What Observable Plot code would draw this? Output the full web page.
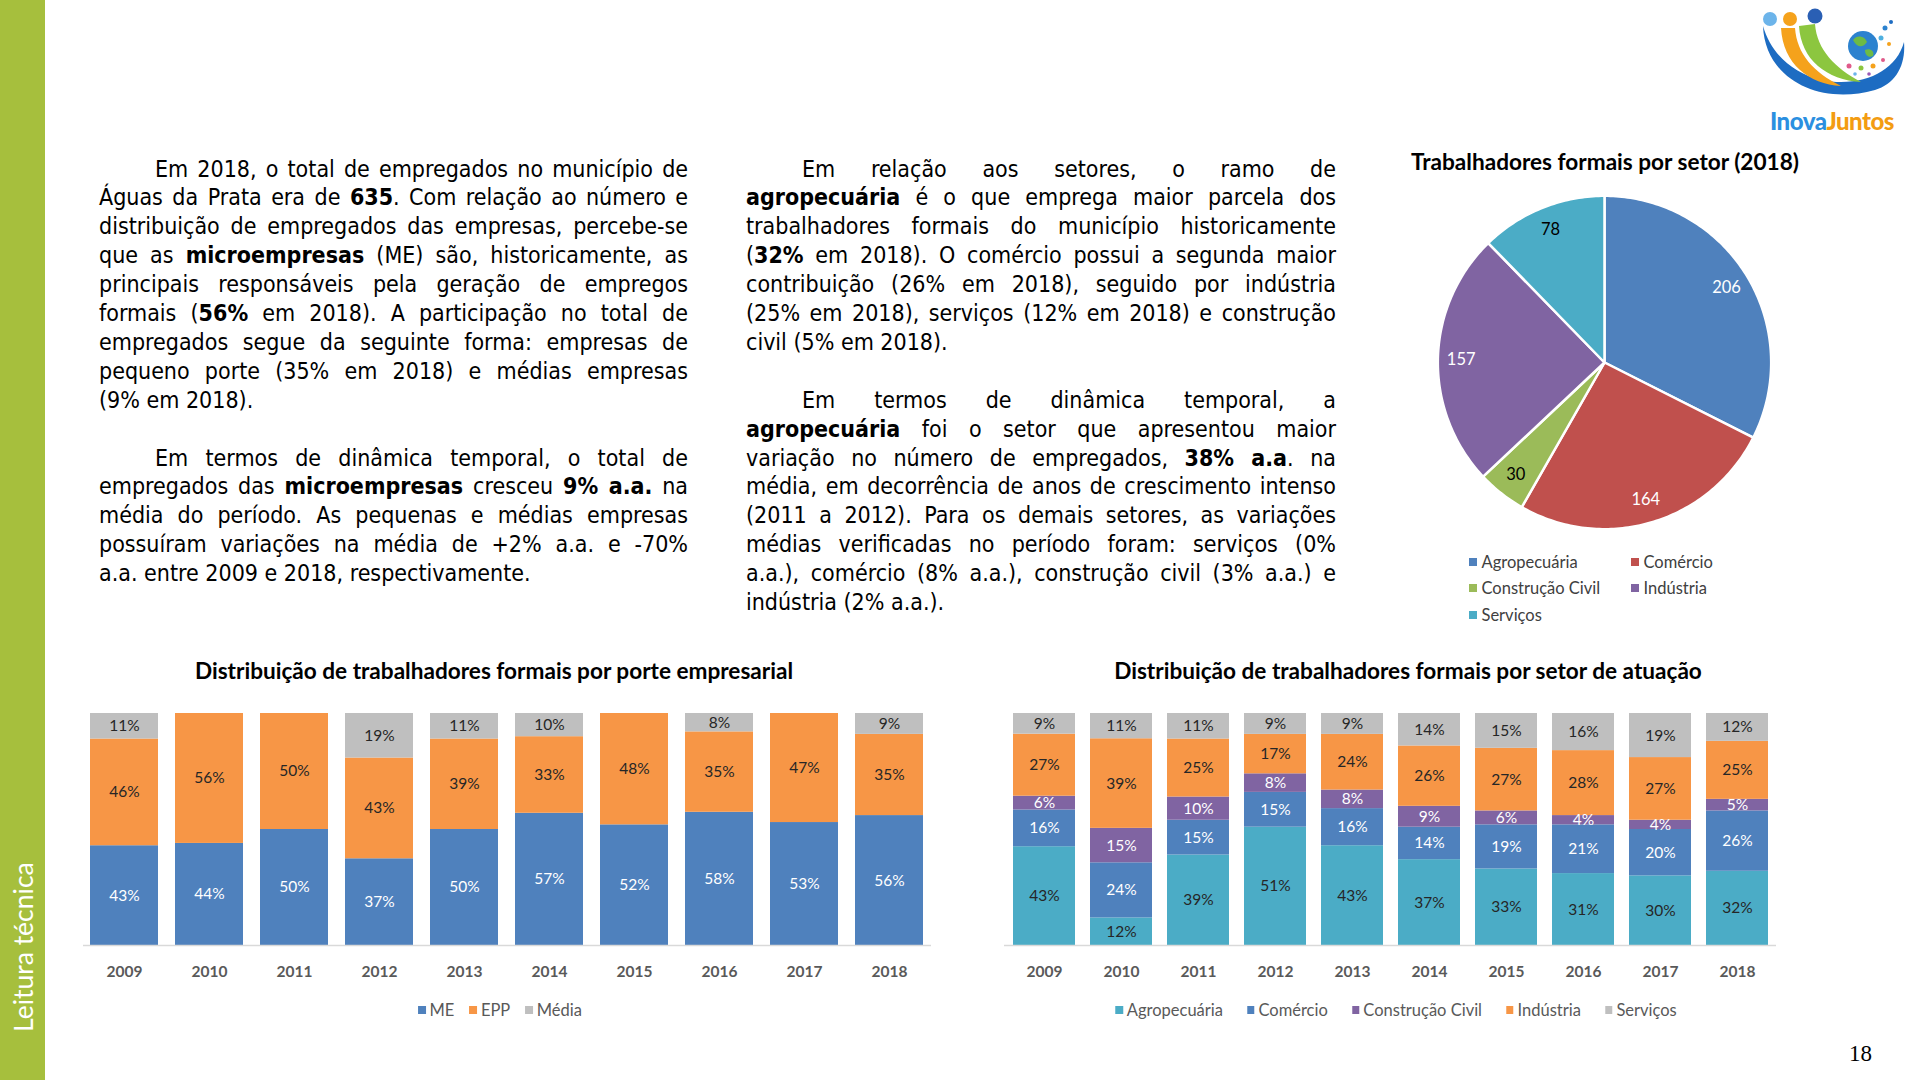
<!DOCTYPE html>
<html><head><meta charset="utf-8">
<script src="https://cdn.jsdelivr.net/npm/d3@7"></script>
<script src="https://cdn.jsdelivr.net/npm/@observablehq/plot@0.6"></script>
<style>
html,body{margin:0;padding:0;background:#fff;}
body{width:1920px;height:1080px;position:relative;overflow:hidden;font-family:Lato,"Open Sans",sans-serif;}
.abs{position:absolute;}
#sidebar{left:0;top:0;width:45px;height:1080px;background:#a6bf3d;}
#sidetext{left:0;top:850px;width:45px;height:194px;display:flex;align-items:center;justify-content:center;writing-mode:vertical-rl;transform:rotate(180deg);color:#fff;font-family:Lato,sans-serif;font-size:26.5px;}
.txt{position:absolute;font-family:"DejaVu Sans Condensed","DejaVu Sans",sans-serif;font-stretch:condensed;font-size:23px;line-height:28.9px;color:#000;}
.txt .l{white-space:nowrap;}
.txt.j .l.f{text-align:justify;text-align-last:justify;}
.txt .l.i{padding-left:56px;}
.title{position:absolute;transform:translate(-50%,-50%);font-family:Lato,sans-serif;font-weight:bold;font-size:22.6px;color:#000;white-space:nowrap;}
.legend{position:absolute;transform:translate(-50%,-50%);display:flex;align-items:center;font-family:Lato,sans-serif;font-size:16.5px;color:#595959;white-space:nowrap;}
.legend .it{display:flex;align-items:center;}
.legend .sw{width:7.5px;height:7.5px;margin-right:4px;display:inline-block;}
.pleg{position:absolute;font-family:Lato,sans-serif;font-size:16.5px;color:#404040;white-space:nowrap;display:flex;align-items:center;transform:translateY(-50%);}
.pleg .sw{width:7.5px;height:7.5px;margin-right:5px;display:inline-block;}
#pagenum{left:1849px;top:1041px;font-family:"Liberation Serif",serif;font-size:23px;color:#000;}
</style>
</head>
<body>
<div id="sidebar" class="abs"></div>
<div id="sidetext" class="abs">Leitura técnica</div>

<svg class="abs" style="left:1757px;top:4px" width="150" height="134" viewBox="0 0 150 134">
  <path d="M6,22 C8,75 62,102 118,86 C138,80 149,62 147,38 C139,68 104,84 64,76 C36,69 14,50 6,22 Z" fill="#1d6cc2"/>
  <path d="M24,24 C26,60 52,80 84,82 C56,68 40,50 38,24 Z" fill="#f5a21c"/>
  <path d="M42,22 C44,56 70,76 104,78 C78,64 60,46 58,20 Z" fill="#8cc63f"/>
  <circle cx="13" cy="15" r="7" fill="#6cb4ea"/>
  <circle cx="33" cy="15" r="7" fill="#f5a21c"/>
  <circle cx="58" cy="12" r="7.5" fill="#2a5fb4"/>
  <circle cx="106" cy="42" r="15" fill="#2c82cf"/>
  <path d="M96,36 C100,30 108,32 110,38 C106,44 100,44 96,36 Z" fill="#6dbb45"/>
  <path d="M108,46 C112,44 118,46 116,52 C112,54 108,52 108,46 Z" fill="#6dbb45"/>
  <circle cx="128" cy="24" r="2.5" fill="#2c82cf"/><circle cx="134" cy="18" r="2" fill="#1d6cc2"/>
  <circle cx="124" cy="34" r="2.5" fill="#4fb0e0"/><circle cx="132" cy="40" r="2" fill="#f5a21c"/>
  <circle cx="92" cy="62" r="2.5" fill="#e05a8a"/><circle cx="104" cy="64" r="2.5" fill="#8cc63f"/>
  <circle cx="116" cy="62" r="2.5" fill="#f5a21c"/><circle cx="126" cy="56" r="2" fill="#e05a8a"/>
  <circle cx="98" cy="70" r="1.8" fill="#6cb4ea"/><circle cx="112" cy="70" r="1.8" fill="#9b59b6"/>
  <text x="75" y="126" text-anchor="middle" font-family="Lato, sans-serif" font-weight="900" font-size="24" letter-spacing="-0.5"><tspan fill="#2b8fe0">Inova</tspan><tspan fill="#f39c12">Juntos</tspan></text>
</svg>

<div id="txtLeft" class="txt" style="left:99px;top:154.5px;width:589px;"></div>
<div id="txtMid" class="txt" style="left:746px;top:154.5px;width:590px;"></div>

<div class="title" style="left:1605px;top:161px;">Trabalhadores formais por setor (2018)</div>
<div id="pie" class="abs" style="left:1424px;top:182px;"></div>
<div id="pieLegend"></div>

<div class="title" style="left:494px;top:670px;">Distribuição de trabalhadores formais por porte empresarial</div>
<div id="barL" class="abs" style="left:83px;top:705px;"></div>
<div id="legL" class="legend" style="left:500px;top:1010px;"></div>

<div class="title" style="left:1408px;top:670px;">Distribuição de trabalhadores formais por setor de atuação</div>
<div id="barR" class="abs" style="left:1004px;top:705px;"></div>
<div id="legR" class="legend" style="left:1396px;top:1010px;"></div>

<div id="pagenum" class="abs">18</div>

<script>
// ---------- DATA ----------
const years = [2009, 2010, 2011, 2012, 2013, 2014, 2015, 2016, 2017, 2018];

// Porte empresarial (%)
const sizeSeries = ["ME", "EPP", "Média"];
const meValues    = [43, 44, 50, 37, 50, 57, 52, 58, 53, 56];
const eppValues   = [46, 56, 50, 43, 39, 33, 48, 35, 47, 35];
const mediaValues = [11, 0, 0, 19, 11, 10, 0, 8, 0, 9];
const sizeColors = ["#4f81bd", "#f79646", "#bfbfbf"];
const sizeLabelColors = ["#ffffff", "#262626", "#262626"];

// Setor de atuação (%)
const sectorSeries = ["Agropecuária", "Comércio", "Construção Civil", "Indústria", "Serviços"];
const agroValues       = [43, 12, 39, 51, 43, 37, 33, 31, 30, 32];
const comercioValues   = [16, 24, 15, 15, 16, 14, 19, 21, 20, 26];
const construcaoValues = [6, 15, 10, 8, 8, 9, 6, 4, 4, 5];
const industriaValues  = [27, 39, 25, 17, 24, 26, 27, 28, 27, 25];
const servicosValues   = [9, 11, 11, 9, 9, 14, 15, 16, 19, 12];
const sectorColors = ["#4bacc6", "#4f81bd", "#8064a2", "#f79646", "#bfbfbf"];
const sectorLabelColors = ["#262626", "#ffffff", "#ffffff", "#262626", "#262626"];

// Pizza 2018 (trabalhadores)
const pieSectors = ["Agropecuária", "Comércio", "Construção Civil", "Indústria", "Serviços"];
const pieValues  = [206, 164, 30, 157, 78];
const pieColors  = ["#4f81bd", "#c0504d", "#9bbb59", "#8064a2", "#4bacc6"];
const pieLabelColors = ["#ffffff", "#ffffff", "#000000", "#ffffff", "#000000"];

// Texto
const leftParas = [
 ["Em 2018, o total de empregados no município de",
  "Águas da Prata era de **635**. Com relação ao número e",
  "distribuição de empregados das empresas, percebe-se",
  "que as **microempresas** (ME) são, historicamente, as",
  "principais responsáveis pela geração de empregos",
  "formais (**56%** em 2018). A participação no total de",
  "empregados segue da seguinte forma: empresas de",
  "pequeno porte (35% em 2018) e médias empresas",
  "(9% em 2018)."],
 ["Em termos de dinâmica temporal, o total de",
  "empregados das **microempresas** cresceu **9% a.a.** na",
  "média do período. As pequenas e médias empresas",
  "possuíram variações na média de +2% a.a. e -70%",
  "a.a. entre 2009 e 2018, respectivamente."]
];
const midParas = [
 ["Em relação aos setores, o ramo de",
  "**agropecuária** é o que emprega maior parcela dos",
  "trabalhadores formais do município historicamente",
  "(**32%** em 2018). O comércio possui a segunda maior",
  "contribuição (26% em 2018), seguido por indústria",
  "(25% em 2018), serviços (12% em 2018) e construção",
  "civil (5% em 2018)."],
 ["Em termos de dinâmica temporal, a",
  "**agropecuária** foi o setor que apresentou maior",
  "variação no número de empregados, **38% a.a**. na",
  "média, em decorrência de anos de crescimento intenso",
  "(2011 a 2012). Para os demais setores, as variações",
  "médias verificadas no período foram: serviços (0%",
  "a.a.), comércio (8% a.a.), construção civil (3% a.a.) e",
  "indústria (2% a.a.)."]
];

// ---------- TEXT ----------
function buildText(el, paras) {
  paras.forEach((lines, pi) => {
    if (pi > 0) { const b = document.createElement("div"); b.className = "l"; b.innerHTML = "&nbsp;"; el.appendChild(b); }
    lines.forEach((ln, li) => {
      const d = document.createElement("div");
      d.className = "l" + (li === 0 ? " i" : "") + (li < lines.length - 1 ? " f" : "");
      d.innerHTML = "<span>" + ln.replace(/\*\*(.+?)\*\*/g, "<b>$1</b>") + "</span>";
      el.appendChild(d);
    });
  });
}
const tL = document.getElementById("txtLeft"), tM = document.getElementById("txtMid");
buildText(tL, leftParas); buildText(tM, midParas);
let maxRatio = 0;
[tL, tM].forEach(el => {
  el.querySelectorAll(".l").forEach(d => {
    const sp = d.querySelector("span");
    if (!sp) return;
    const pad = d.classList.contains("i") ? 56 : 0;
    const w = sp.getBoundingClientRect().width;
    maxRatio = Math.max(maxRatio, (w + pad) / el.clientWidth);
  });
});
if (maxRatio > 0.995) {
  const fs = 23 * 0.995 / maxRatio;
  tL.style.fontSize = fs + "px"; tM.style.fontSize = fs + "px";
}
tL.classList.add("j"); tM.classList.add("j");

// ---------- BAR CHARTS ----------
function rowsFrom(series, valueArrays, labelColors) {
  const rows = [];
  years.forEach((yr, i) => series.forEach((s, j) => rows.push({year: yr, series: s, value: valueArrays[j][i], lc: labelColors[j]})));
  return rows;
}
function stackedChart(rows, series, colors, width) {
  return Plot.plot({
    width, height: 280,
    marginTop: 8, marginBottom: 40, marginLeft: 0, marginRight: 0,
    style: {fontFamily: "Lato, sans-serif", background: "transparent", overflow: "visible"},
    x: {type: "band", domain: years, paddingInner: 0.2, paddingOuter: 0.05, label: null},
    y: {axis: null, domain: [0, 1], label: null},
    color: {domain: series, range: colors},
    marks: [
      Plot.barY(rows, {x: "year", y: "value", z: "series", fill: "series", order: series, offset: "normalize"}),
      Plot.text(rows, Plot.stackY({x: "year", y: "value", z: "series", order: series, offset: "normalize",
        text: d => d.value > 0 ? d.value + "%" : "", fill: d => d.lc, fontSize: 15.5})),
      Plot.ruleY([0], {stroke: "#d9d9d9", strokeWidth: 1.5}),
      Plot.axisX({tickSize: 0, tickPadding: 20, fontSize: 15.5, fontWeight: "bold", fill: "#595959",
        tickFormat: d => String(d), label: null})
    ]
  });
}
document.getElementById("barL").appendChild(
  stackedChart(rowsFrom(sizeSeries, [meValues, eppValues, mediaValues], sizeLabelColors), sizeSeries, sizeColors, 848));
document.getElementById("barR").appendChild(
  stackedChart(rowsFrom(sectorSeries, [agroValues, comercioValues, construcaoValues, industriaValues, servicosValues], sectorLabelColors), sectorSeries, sectorColors, 772));

function buildLegend(el, series, colors, gap) {
  el.style.gap = gap + "px";
  series.forEach((s, i) => {
    const it = document.createElement("div"); it.className = "it";
    it.innerHTML = `<span class="sw" style="background:${colors[i]}"></span><span>${s}</span>`;
    el.appendChild(it);
  });
}
buildLegend(document.getElementById("legL"), sizeSeries, sizeColors, 15);
buildLegend(document.getElementById("legR"), sectorSeries, sectorColors, 24);

// ---------- PIE ----------
const pieData = pieSectors.map((s, i) => ({sector: s, value: pieValues[i], lc: pieLabelColors[i]}));
const arcs = d3.pie().sort(null).value(d => d.value).startAngle(0).endAngle(2 * Math.PI)(pieData);
const polyPts = [];
const labelPts = [];
arcs.forEach(a => {
  const s = a.data.sector;
  polyPts.push({sector: s, x: 0, y: 0});
  const n = Math.max(2, Math.ceil((a.endAngle - a.startAngle) / (Math.PI / 180)));
  for (let k = 0; k <= n; k++) {
    const t = a.startAngle + (a.endAngle - a.startAngle) * k / n;
    polyPts.push({sector: s, x: Math.sin(t), y: Math.cos(t)});
  }
  const m = (a.startAngle + a.endAngle) / 2;
  labelPts.push({sector: s, x: 0.86 * Math.sin(m), y: 0.86 * Math.cos(m), text: String(a.data.value), lc: a.data.lc});
});
document.getElementById("pie").appendChild(Plot.plot({
  width: 360, height: 360, margin: 0,
  style: {fontFamily: "Lato, sans-serif", background: "transparent", overflow: "visible"},
  x: {axis: null, domain: [-1.08, 1.08]},
  y: {axis: null, domain: [-1.08, 1.08]},
  color: {domain: pieSectors, range: pieColors},
  marks: [
    Plot.line(polyPts, {x: "x", y: "y", z: "sector", fill: "sector", stroke: "#ffffff", strokeWidth: 2.5, curve: "linear-closed", strokeLinejoin: "round"}),
    Plot.text(labelPts, {x: "x", y: "y", text: "text", fill: d => d.lc, fontSize: 16.5})
  ]
}));
// Pie legend (2 columns)
const pl = document.getElementById("pieLegend");
const colX = [1469, 1631], rowY = [562, 588, 615];
pieSectors.forEach((s, i) => {
  const d = document.createElement("div"); d.className = "pleg";
  d.style.left = colX[i % 2] + "px"; d.style.top = rowY[Math.floor(i / 2)] + "px";
  d.innerHTML = `<span class="sw" style="background:${pieColors[i]}"></span><span>${s}</span>`;
  pl.appendChild(d);
});
</script>
</body></html>
